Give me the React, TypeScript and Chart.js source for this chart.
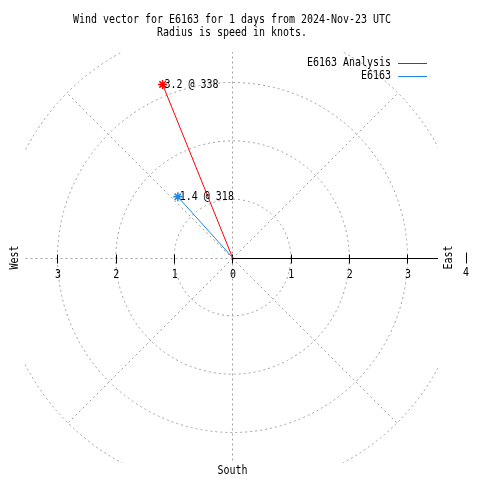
import React, { useEffect, useRef } from "react";
import { Chart, registerables } from "chart.js";

Chart.register(...registerables);

// ---- data ----
const titleLines = [
  "Wind vector for E6163 for 1 days from 2024-Nov-23 UTC",
  "Radius is speed in knots.",
];
const seriesNames = ["E6163 Analysis", "E6163"];
const speeds = [3.2, 1.4]; // knots
const directions = [338, 318]; // degrees, compass bearing
const radialTicks = [1, 2, 3, 4];
const axisTickValues = [-3, -2, -1, 0, 1, 2, 3];
const gridAngles = [0, 45, 90, 135, 180, 225, 270, 315];
const compassLabels = ["East", "West", "South"];

const seriesColors = ["#ff0000", "#1e88e5"];
const FONT = "12px 'DejaVu Sans Mono', monospace";
const SX = 6 / 7.22; // squeeze to 6px per character

function txt(ctx: any, s: string, x: number, y: number, align: string, rotate = false) {
  ctx.save();
  ctx.translate(x, y);
  if (rotate) ctx.rotate(-Math.PI / 2);
  ctx.scale(SX, 1);
  ctx.textAlign = align;
  ctx.textBaseline = "middle";
  ctx.fillText(s, 0, 0);
  ctx.restore();
}

const polarPlugin = {
  id: "polarDecor",
  beforeDatasetsDraw(chart: any) {
    const { ctx, chartArea: ca } = chart;
    const xs = chart.scales.x;
    const ys = chart.scales.y;
    const cx = xs.getPixelForValue(0);
    const cy = ys.getPixelForValue(0);
    const unit = xs.getPixelForValue(1) - cx;
    const rMax = radialTicks[radialTicks.length - 1] * unit;
    ctx.save();
    ctx.beginPath();
    ctx.rect(ca.left, ca.top, ca.right - ca.left, ca.bottom - ca.top);
    ctx.clip();
    ctx.strokeStyle = "#a0a0a0";
    ctx.lineWidth = 1;
    ctx.setLineDash([2, 3]);
    // circles
    radialTicks.forEach((r) => {
      ctx.beginPath();
      ctx.arc(cx, cy, r * unit, 0, Math.PI * 2);
      ctx.stroke();
    });
    // radial lines, out to the outermost circle
    const ox = Math.round(cx) + 0.5;
    const oy = Math.round(cy) + 0.5;
    gridAngles.forEach((a) => {
      const t = (a * Math.PI) / 180;
      ctx.beginPath();
      ctx.moveTo(ox, oy);
      ctx.lineTo(ox + rMax * Math.cos(t), oy - rMax * Math.sin(t));
      ctx.stroke();
    });
    ctx.restore();

    // solid axis from center to right edge
    ctx.save();
    ctx.strokeStyle = "#000";
    ctx.lineWidth = 1;
    ctx.beginPath();
    ctx.moveTo(ox, oy);
    ctx.lineTo(ca.right, oy);
    ctx.stroke();
    axisTickValues.forEach((v) => {
      const px = Math.round(xs.getPixelForValue(v)) + 0.5;
      ctx.beginPath();
      ctx.moveTo(px, oy - 4);
      ctx.lineTo(px, oy + 5);
      ctx.stroke();
    });
    ctx.restore();
  },
  afterDatasetsDraw(chart: any) {
    const { ctx, chartArea: ca } = chart;
    const xs = chart.scales.x;
    const ys = chart.scales.y;
    const cx = xs.getPixelForValue(0);
    const cy = ys.getPixelForValue(0);
    ctx.save();
    ctx.font = FONT;
    ctx.fillStyle = "#000";
    // tick labels
    axisTickValues.forEach((v) => {
      txt(ctx, String(Math.abs(v)), xs.getPixelForValue(v) + 0.5, cy + 17, "center");
    });
    // title
    titleLines.forEach((t, i) => {
      txt(ctx, t, 232, 20 + i * 13, "center");
    });
    // South
    txt(ctx, compassLabels[2], cx, ca.bottom + 8, "center");
    // vector labels
    speeds.forEach((s, i) => {
      const t = (directions[i] * Math.PI) / 180;
      const px = xs.getPixelForValue(s * Math.sin(t));
      const py = ys.getPixelForValue(s * Math.cos(t));
      txt(ctx, `${s.toFixed(1)} @ ${directions[i]}`, px + 2, py, "left");
    });
    // rotated East / West
    txt(ctx, compassLabels[0], ca.right + 11, cy, "center", true);
    txt(ctx, compassLabels[1], 15, cy, "center", true);
    // outer radius marker near East
    txt(ctx, String(radialTicks[3]), 466, cy + 15, "center");
    ctx.strokeStyle = "#000";
    ctx.lineWidth = 1;
    ctx.beginPath();
    ctx.moveTo(466.5, cy - 5);
    ctx.lineTo(466.5, cy + 6);
    ctx.stroke();
    // legend
    seriesNames.forEach((n, i) => {
      const y = 63 + i * 12.5;
      txt(ctx, n, 391, y, "right");
      ctx.strokeStyle = seriesColors[i];
      ctx.beginPath();
      ctx.moveTo(398, Math.round(y) + 0.5);
      ctx.lineTo(427, Math.round(y) + 0.5);
      ctx.stroke();
    });
    ctx.restore();
  },
};

export default function App() {
  const ref = useRef<HTMLCanvasElement | null>(null);
  useEffect(() => {
    if (!ref.current) return;
    const datasets = speeds.map((s, i) => {
      const t = (directions[i] * Math.PI) / 180;
      return {
        label: seriesNames[i],
        data: [
          { x: 0, y: 0 },
          { x: s * Math.sin(t), y: s * Math.cos(t) },
        ],
        showLine: true,
        borderColor: seriesColors[i],
        backgroundColor: seriesColors[i],
        borderWidth: 1,
        pointStyle: "star" as const,
        pointRadius: [0, 4.5],
        pointBorderWidth: 1.5,
        pointBorderColor: seriesColors[i],
      };
    });
    const chart = new Chart(ref.current, {
      type: "scatter",
      data: { datasets: datasets.slice().reverse() as any },
      options: {
        animation: false,
        responsive: false,
        maintainAspectRatio: false,
        layout: { padding: { left: 25, right: 42, top: 52, bottom: 17 } },
        scales: {
          x: { type: "linear", min: -3.557, max: 3.523, display: false },
          y: { type: "linear", min: -3.523, max: 3.523, display: false },
        },
        plugins: { legend: { display: false }, tooltip: { enabled: false }, title: { display: false } },
      },
      plugins: [polarPlugin],
    });
    return () => chart.destroy();
  }, []);
  return (
    <div style={{ position: "absolute", left: 0, top: 0, width: 480, height: 480, background: "#fff" }}>
      <canvas ref={ref} width={480} height={480} />
    </div>
  );
}
